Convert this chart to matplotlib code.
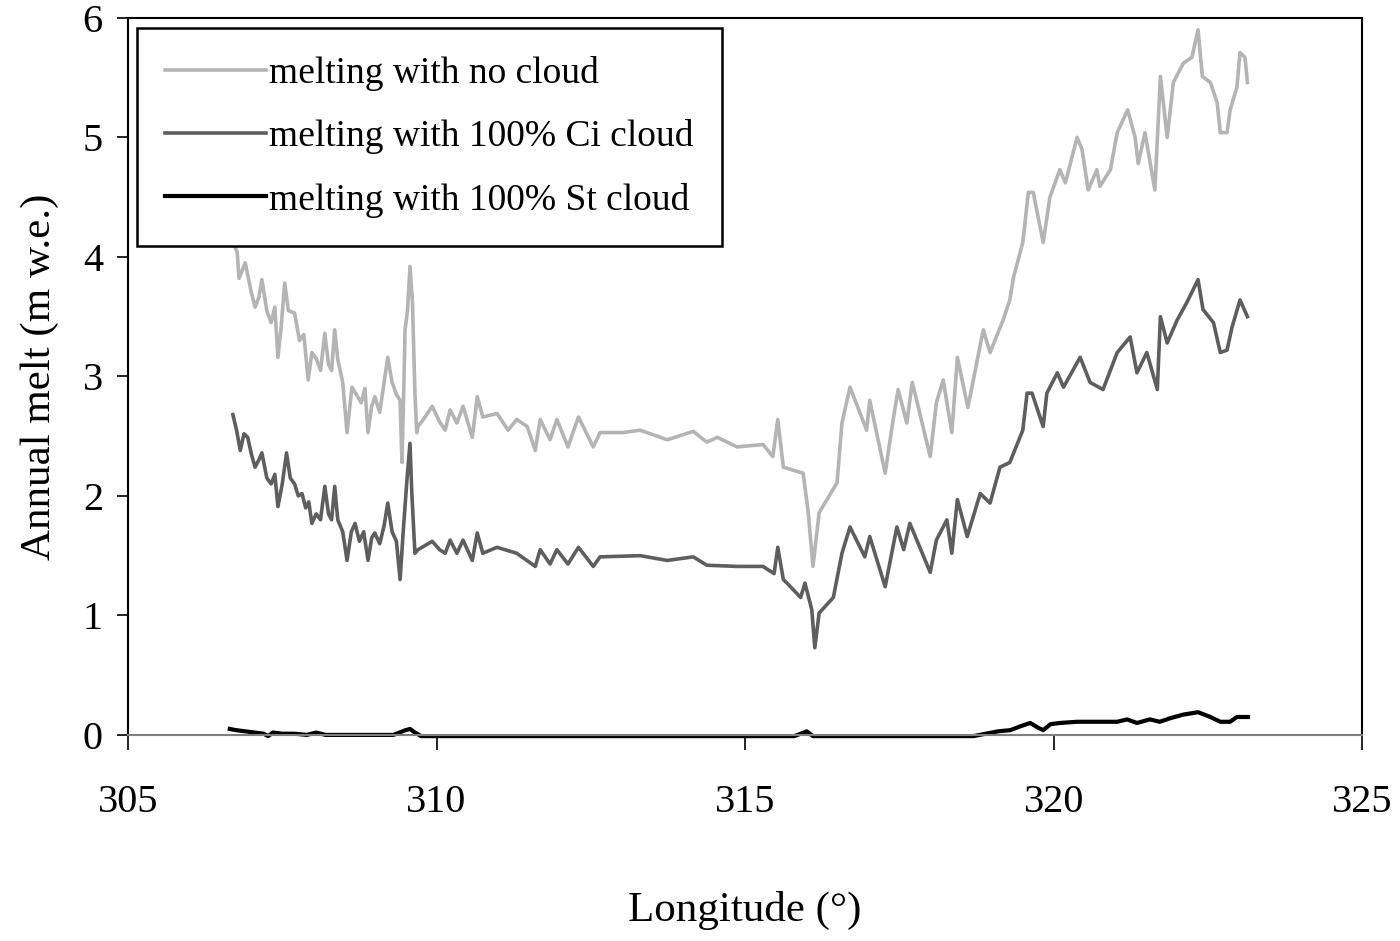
import matplotlib.pyplot as plt

plt.rcParams['font.family'] = ['Liberation Serif', 'DejaVu Serif']

# melting with no cloud
lon_clear = [306.70, 306.77, 306.80, 306.90, 307.00, 307.06, 307.12, 307.17, 307.25, 307.32,
             307.38, 307.43, 307.48, 307.54, 307.60, 307.70, 307.78, 307.85, 307.92, 307.98,
             308.05, 308.12, 308.19, 308.25, 308.30, 308.35, 308.40, 308.48, 308.55, 308.63,
             308.70, 308.78, 308.84, 308.89, 308.95, 309.00, 309.08, 309.15, 309.21, 309.28,
             309.35, 309.41, 309.44, 309.47, 309.49, 309.53, 309.57, 309.61, 309.65, 309.68,
             309.70, 309.80, 309.93, 310.05, 310.14, 310.22, 310.33, 310.43, 310.58, 310.66,
             310.75, 310.98, 311.16, 311.30, 311.47, 311.60, 311.68, 311.84, 311.95, 312.13,
             312.30, 312.54, 312.65, 313.02, 313.30, 313.74, 314.16, 314.38, 314.55, 314.87,
             315.29, 315.45, 315.53, 315.62, 315.94, 316.02, 316.10, 316.20, 316.49, 316.57,
             316.70, 316.97, 317.02, 317.27, 317.40, 317.48, 317.62, 317.71, 318.00, 318.10,
             318.21, 318.35, 318.44, 318.61, 318.86, 318.97, 319.18, 319.29, 319.35, 319.50,
             319.59, 319.67, 319.83, 319.94, 320.10, 320.19, 320.38, 320.46, 320.56, 320.70,
             320.75, 320.92, 321.03, 321.20, 321.32, 321.37, 321.48, 321.64, 321.73, 321.84,
             321.94, 322.10, 322.24, 322.34, 322.41, 322.54, 322.65, 322.70, 322.81, 322.86,
             322.97, 323.02, 323.10, 323.14]
melt_clear = [4.12, 4.04, 3.82, 3.95, 3.70, 3.58, 3.66, 3.81, 3.55, 3.45,
              3.58, 3.16, 3.40, 3.78, 3.55, 3.53, 3.30, 3.35, 2.97, 3.20,
              3.15, 3.05, 3.36, 3.10, 3.05, 3.39, 3.14, 2.95, 2.53, 2.91,
              2.85, 2.78, 2.90, 2.53, 2.75, 2.83, 2.70, 2.95, 3.16, 2.95,
              2.85, 2.80, 2.28, 2.90, 3.39, 3.55, 3.92, 3.62, 2.86, 2.53,
              2.58, 2.65, 2.75, 2.62, 2.55, 2.72, 2.61, 2.75, 2.49, 2.83,
              2.66, 2.69, 2.55, 2.64, 2.58, 2.38, 2.64, 2.47, 2.64, 2.41,
              2.66, 2.41, 2.53, 2.53, 2.55, 2.47, 2.54, 2.45, 2.49, 2.41,
              2.43, 2.33, 2.64, 2.24, 2.19, 1.88, 1.41, 1.86, 2.11, 2.61,
              2.91, 2.55, 2.80, 2.19, 2.64, 2.89, 2.61, 2.95, 2.33, 2.78,
              2.97, 2.53, 3.16, 2.74, 3.39, 3.20, 3.47, 3.64, 3.83, 4.12,
              4.54, 4.54, 4.12, 4.50, 4.73, 4.62, 5.00, 4.90, 4.56, 4.73,
              4.59, 4.73, 5.04, 5.23, 5.00, 4.78, 5.04, 4.56, 5.51, 5.00,
              5.46, 5.62, 5.67, 5.90, 5.51, 5.46, 5.29, 5.04, 5.04, 5.23,
              5.42, 5.71, 5.67, 5.46]

# melting with 100% Ci cloud
lon_ci = [306.70, 306.76, 306.82, 306.88, 306.94, 307.00, 307.06, 307.12, 307.17, 307.25,
          307.32, 307.38, 307.43, 307.50, 307.57, 307.63, 307.70, 307.76, 307.82, 307.88,
          307.93, 307.98, 308.05, 308.12, 308.19, 308.25, 308.30, 308.35, 308.40, 308.48,
          308.55, 308.62, 308.68, 308.75, 308.82, 308.89, 308.95, 309.00, 309.08, 309.15,
          309.21, 309.28, 309.35, 309.41, 309.46, 309.52, 309.57, 309.60, 309.65, 309.70,
          309.80, 309.93, 310.05, 310.14, 310.22, 310.33, 310.43, 310.58, 310.66, 310.75,
          310.98, 311.30, 311.60, 311.68, 311.84, 311.95, 312.13, 312.30, 312.54, 312.65,
          313.30, 313.74, 314.16, 314.38, 314.87, 315.29, 315.47, 315.53, 315.62, 315.68,
          315.90, 315.97, 316.08, 316.13, 316.20, 316.43, 316.57, 316.70, 316.94, 317.02,
          317.27, 317.46, 317.57, 317.67, 318.00, 318.10, 318.27, 318.35, 318.44, 318.60,
          318.81, 318.97, 319.13, 319.29, 319.50, 319.57, 319.65, 319.83, 319.89, 320.06,
          320.16, 320.43, 320.59, 320.80, 321.03, 321.24, 321.35, 321.51, 321.68, 321.73,
          321.84, 322.00, 322.16, 322.34, 322.42, 322.59, 322.70, 322.81, 322.89, 323.02,
          323.14]
melt_ci = [2.68, 2.55, 2.38, 2.52, 2.49, 2.35, 2.24, 2.30, 2.36, 2.15,
           2.10, 2.18, 1.91, 2.10, 2.36, 2.15, 2.10, 2.00, 2.02, 1.90,
           1.95, 1.77, 1.85, 1.80, 2.08, 1.85, 1.80, 2.08, 1.80, 1.70,
           1.46, 1.70, 1.77, 1.62, 1.70, 1.46, 1.65, 1.69, 1.60, 1.75,
           1.94, 1.70, 1.62, 1.30, 1.70, 2.13, 2.44, 2.02, 1.52, 1.55,
           1.58, 1.62, 1.55, 1.52, 1.63, 1.52, 1.63, 1.46, 1.69, 1.52,
           1.57, 1.52, 1.41, 1.55, 1.43, 1.55, 1.43, 1.57, 1.41, 1.49,
           1.50, 1.46, 1.49, 1.42, 1.41, 1.41, 1.35, 1.57, 1.30, 1.27,
           1.15, 1.27, 1.05, 0.73, 1.02, 1.15, 1.52, 1.74, 1.49, 1.66,
           1.24, 1.74, 1.55, 1.77, 1.36, 1.63, 1.80, 1.52, 1.97, 1.66,
           2.02, 1.94, 2.24, 2.28, 2.55, 2.86, 2.86, 2.58, 2.86, 3.03,
           2.91, 3.16, 2.95, 2.89, 3.20, 3.33, 3.03, 3.20, 2.89, 3.50,
           3.28, 3.47, 3.62, 3.81, 3.56, 3.45, 3.20, 3.22, 3.41, 3.64,
           3.50]

# melting with 100% St cloud
lon_st = [306.65, 306.75, 306.90, 307.05, 307.20, 307.27, 307.35, 307.50, 307.70, 307.90,
          308.05, 308.20, 308.40, 308.70, 309.00, 309.30, 309.50, 309.57, 309.65, 309.75,
          310.50, 312.00, 314.00, 315.80, 316.00, 316.10, 317.50, 318.70, 318.90, 319.10,
          319.30, 319.45, 319.62, 319.75, 319.83, 319.95, 320.10, 320.38, 320.70, 321.03,
          321.19, 321.35, 321.56, 321.72, 321.89, 322.10, 322.34, 322.54, 322.70, 322.86,
          322.97, 323.15]
melt_st = [0.05, 0.04, 0.03, 0.02, 0.01, -0.01, 0.02, 0.01, 0.01, 0.00,
           0.02, 0.00, 0.00, 0.00, 0.00, 0.00, 0.04, 0.05, 0.02, -0.01,
           -0.01, -0.01, -0.01, -0.01, 0.03, -0.01, -0.01, -0.01, 0.01, 0.03,
           0.04, 0.07, 0.10, 0.06, 0.04, 0.09, 0.10, 0.11, 0.11, 0.11,
           0.13, 0.10, 0.13, 0.11, 0.14, 0.17, 0.19, 0.15, 0.11, 0.11,
           0.15, 0.15]

fig = plt.figure(figsize=(14, 9.41), dpi=100)
ax = fig.add_axes([0.0914, 0.219, 0.8816, 0.762])

ax.plot(lon_clear, melt_clear, color='#b4b4b4', lw=2.6, label='melting with no cloud', clip_on=False)
ax.plot(lon_ci, melt_ci, color='#5e5e5e', lw=2.6, label='melting with 100% Ci cloud', clip_on=False)
ax.plot(lon_st, melt_st, color='black', lw=3, label='melting with 100% St cloud', clip_on=False)

ax.set_xlim(305, 325)
ax.set_ylim(0, 6)
ax.set_xticks([305, 310, 315, 320, 325])
ax.set_yticks([0, 1, 2, 3, 4, 5, 6])
ax.tick_params(axis='x', direction='out', length=11, width=1.2, pad=24, labelsize=29)
ax.tick_params(axis='y', direction='out', length=8, width=1.2, pad=10, labelsize=29)
for s in ax.spines.values():
    s.set_linewidth(1.5)
ax.spines['bottom'].set_color('#808080')

ax.set_xlabel('Longitude (°)', fontsize=31, labelpad=51)
ax.set_ylabel('Annual melt (m w.e.)', fontsize=31, labelpad=17)

leg = ax.legend(loc='upper left', bbox_to_anchor=(0.0979, 0.970), bbox_transform=fig.transFigure,
                borderaxespad=0, fontsize=27, handlelength=2.7, handletextpad=0.08,
                labelspacing=0.75, borderpad=0.75, fancybox=False, framealpha=1)
leg.get_frame().set_edgecolor('black')
leg.get_frame().set_linewidth(1.8)

fig.savefig('out.png', dpi=100)
